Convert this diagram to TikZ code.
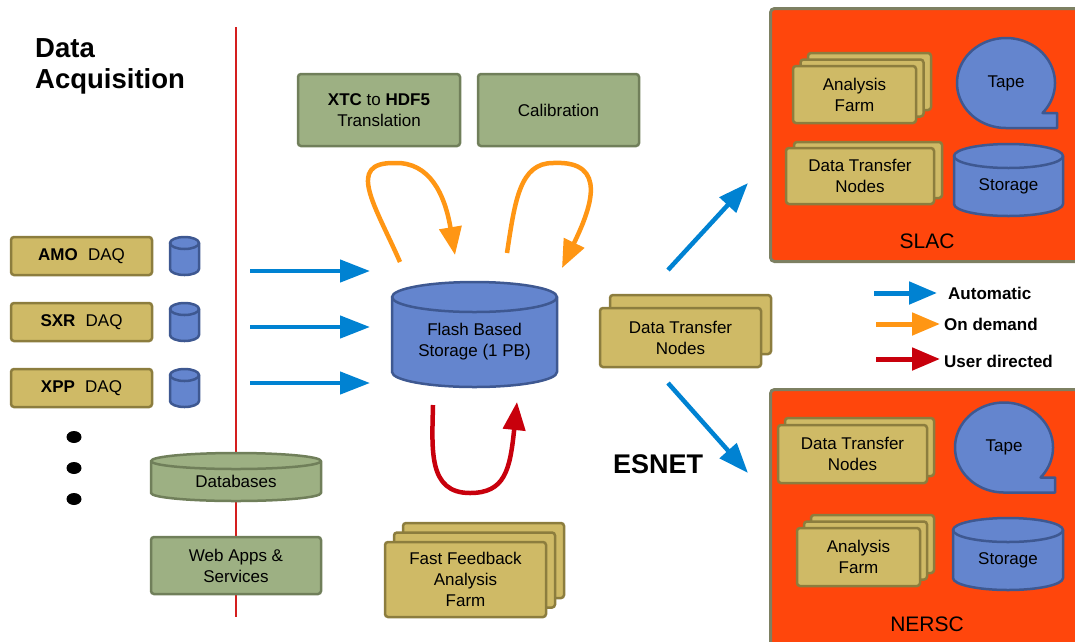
\documentclass[tikz,border=0pt]{standalone}
\usepackage{fontspec}
\setmainfont{Liberation Sans}
\usetikzlibrary{arrows.meta}
\definecolor{tanF}{RGB}{207,186,102}
\definecolor{tanD}{RGB}{140,125,62}
\definecolor{grnF}{RGB}{157,176,131}
\definecolor{grnD}{RGB}{112,127,90}
\definecolor{cylF}{RGB}{100,133,206}
\definecolor{cylD}{RGB}{62,88,145}
\definecolor{arrB}{RGB}{0,130,210}
\definecolor{arrO}{RGB}{255,150,20}
\definecolor{arrR}{RGB}{200,0,12}
\definecolor{siteF}{RGB}{255,70,12}
\definecolor{siteD}{RGB}{125,128,98}
\definecolor{lineR}{RGB}{212,30,30}

\newcommand\mycyl[9]{%
 \pgfmathsetmacro\cxx{(#2+#3)/2}%
 \pgfmathsetmacro\rxx{(#3-#2)/2}%
 \pgfmathsetmacro\kx{0.5523*\rxx}%
 \pgfmathsetmacro\ky{0.5523*#6}%
 \pgfmathsetmacro\ya{#4+#6}%
 \pgfmathsetmacro\yb{#5-#6}%
 \pgfmathsetmacro\ye{#4+2*#6}%
 \pgfmathsetmacro\yt{(#4+#5)/2+#6/2}%
 \filldraw[fill=#7,draw=#8,line width=2.5pt,line join=round]
   (#2,\ya) -- (#2,\yb) .. controls (#2,\yb+\ky) and (\cxx-\kx,#5) .. (\cxx,#5)
   .. controls (\cxx+\kx,#5) and (#3,\yb+\ky) .. (#3,\yb) -- (#3,\ya)
   .. controls (#3,\ya-\ky) and (\cxx+\kx,#4) .. (\cxx,#4)
   .. controls (\cxx-\kx,#4) and (#2,\ya-\ky) .. (#2,\ya) -- cycle;
 \draw[draw=#8,line width=2.5pt] (#2,\ya) .. controls (#2,\ya+\ky) and (\cxx-\kx,\ye) .. (\cxx,\ye)
   .. controls (\cxx+\kx,\ye) and (#3,\ya+\ky) .. (#3,\ya);
 \node[lbl] (#1) at (\cxx,\yt) {#9};
}
\newcommand\stk[9]{%
 \foreach \k in {#6,...,1}{\draw[tanshape] ({#2-#4/2+\k*#7},{#3-#5/2-\k*#8}) rectangle ++(#4,#5);}
 \node[tanbox,minimum width=#4pt,minimum height=#5pt] (#1) at (#2,#3) {#9};
}
\newcommand\tapeshape[4]{%
 \pgfmathsetmacro\tth{asin(30/45)}%
 \filldraw[fill=cylF,draw=cylD,line width=2.5pt,line join=round]
   (#2,#3+45) -- (#4,#3+45) -- (#4,#3+30) -- plot[domain=\tth:-270,samples=120] ({#2+49*cos(\x)},{#3+45*sin(\x)}) -- cycle;
 \node[lbl] (#1) at (#2,#3) {Tape};
}

\begin{document}
\begin{tikzpicture}[x=1pt,y=-1pt,
  lbl/.style={font=\fontsize{17}{21}\selectfont, align=center, inner sep=0pt},
  tanshape/.style={draw=tanD, fill=tanF, line width=2.5pt, rounded corners=3pt},
  tanbox/.style={tanshape, lbl},
  grnbox/.style={draw=grnD, fill=grnF, line width=2.5pt, rounded corners=3pt, lbl},
  sitebox/.style={draw=siteD, fill=siteF, line width=3pt, rounded corners=4pt, inner sep=0pt},
  autoarr/.style={draw=arrB, line width=4.5pt, -{Triangle[length=30pt,width=22pt]}},
  demarr/.style={draw=arrO, line width=4.5pt, -{Triangle[length=28pt,width=22pt]}},
  userarr/.style={draw=arrR, line width=4.5pt, -{Triangle[length=28pt,width=22pt]}},
  legtxt/.style={font=\bfseries\fontsize{17}{20}\selectfont, anchor=west, inner sep=0pt},
  ]
\useasboundingbox (0,0) rectangle (1075,641);

% title
\node[font=\bfseries\fontsize{27.5}{31}\selectfont, anchor=base west, inner sep=0pt] (t1) at (35,57) {Data};
\node[font=\bfseries\fontsize{27.5}{31}\selectfont, anchor=base west, inner sep=0pt] (t2) at (35,88) {Acquisition};

% red separator
\draw[draw=lineR, line width=1.8pt] (236,27) -- (236,617);

% DAQ boxes
\node[tanbox, minimum width=141pt, minimum height=38pt] (amo) at (81.5,256) {\textbf{AMO}\hspace{0.6em}DAQ};
\node[tanbox, minimum width=141pt, minimum height=38pt] (sxr) at (81.5,322) {\textbf{SXR}\hspace{0.6em}DAQ};
\node[tanbox, minimum width=141pt, minimum height=38pt] (xpp) at (81.5,388) {\textbf{XPP}\hspace{0.6em}DAQ};
\mycyl{camo}{170}{199}{237}{275}{6}{cylF}{cylD}{}
\mycyl{csxr}{170}{199}{303}{341}{6}{cylF}{cylD}{}
\mycyl{cxpp}{170}{199}{369}{407}{6}{cylF}{cylD}{}

% dots
\fill (74,437) ellipse [x radius=7.5pt, y radius=6pt];
\fill (74,468) ellipse [x radius=7.5pt, y radius=6pt];
\fill (74,499) ellipse [x radius=7.5pt, y radius=6pt];

% databases and web apps
\mycyl{db}{151}{321}{453}{501}{8}{grnF}{grnD}{Databases}
\node[grnbox, minimum width=170pt, minimum height=57pt] (web) at (236,565.5) {Web Apps \&\\Services};

% top processing boxes
\node[grnbox, minimum width=162pt, minimum height=72pt] (xtc) at (379,110) {\textbf{XTC} to \textbf{HDF5}\\Translation};
\node[grnbox, minimum width=161pt, minimum height=72pt] (cal) at (558.5,110) {Calibration};

% flash storage
\mycyl{flash}{392}{557}{282}{387}{15}{cylF}{cylD}{Flash Based\\Storage (1 PB)}

% fast feedback
\stk{ffb}{465.5}{579.5}{161}{75}{2}{9}{9.5}{Fast Feedback\\Analysis\\Farm}

% middle DTN
\stk{dtn}{680.5}{337.5}{161}{59}{1}{10}{13}{Data Transfer\\Nodes}

% ESNET
\node[font=\bfseries\fontsize{27}{31}\selectfont, inner sep=0pt] (esnet) at (658,464) {ESNET};

% SLAC site
\node[sitebox, minimum width=321pt, minimum height=253pt, anchor=north west] (slac) at (769,7) {};
\stk{safarm}{854.5}{94.5}{123}{57}{2}{7.5}{6.5}{Analysis\\Farm}
\stk{sdtn}{860}{176}{148}{56}{1}{8}{6}{Data Transfer\\Nodes}
\tapeshape{stape}{1006}{83}{1057}
\mycyl{sstor}{954}{1063}{144}{216}{12}{cylF}{cylD}{Storage}
\node[font=\fontsize{21}{25}\selectfont, inner sep=0pt] (slaclbl) at (927,241) {SLAC};

% NERSC site
\node[sitebox, minimum width=321pt, minimum height=270pt, anchor=north west] (nersc) at (769,388) {};
\stk{ndtn}{852.5}{454}{149}{58}{1}{7}{7}{Data Transfer\\Nodes}
\tapeshape{ntape}{1004}{447.5}{1055}
\stk{nafarm}{858.5}{557}{123}{58}{2}{7}{6.5}{Analysis\\Farm}
\mycyl{nstor}{953}{1063}{518}{590}{12}{cylF}{cylD}{Storage}
\node[font=\fontsize{21}{25}\selectfont, inner sep=0pt] (nersclbl) at (927,624) {NERSC};

% automatic arrows into flash
\coordinate (a1) at (250,271); \coordinate (a1e) at (370,271);
\coordinate (a2) at (250,327); \coordinate (a2e) at (370,327);
\coordinate (a3) at (250,383); \coordinate (a3e) at (370,383);
\draw[autoarr] (a1) -- (a1e);
\draw[autoarr] (a2) -- (a2e);
\draw[autoarr] (a3) -- (a3e);

% on demand loops
\coordinate (o1s) at (400,262); \coordinate (o1t) at (395,163); \coordinate (o1e) at (455,255);
\draw[demarr] (o1s) .. controls (375,205) and (345,162) .. (o1t) .. controls (430,162) and (445,195) .. (o1e);
\coordinate (o2s) at (507,253); \coordinate (o2t) at (553,163); \coordinate (o2e) at (562,268);
\draw[demarr] (o2s) .. controls (515,200) and (520,163) .. (o2t) .. controls (610,160) and (590,210) .. (o2e);

% user directed loop
\coordinate (r1s) at (433,405); \coordinate (r1b) at (470,493); \coordinate (r1e) at (517,402);
\draw[userarr] (r1s) .. controls (432,450) and (428,493) .. (r1b) .. controls (505,493) and (510,470) .. (r1e);

% to sites
\coordinate (d1s) at (668,270); \coordinate (d1e) at (748,183);
\coordinate (d2s) at (668,383); \coordinate (d2e) at (748,473);
\draw[autoarr] (d1s) -- (d1e);
\draw[autoarr] (d2s) -- (d2e);

% legend
\coordinate (l1s) at (874,293); \coordinate (l1e) at (937,293);
\coordinate (l2s) at (876,324); \coordinate (l2e) at (940,324);
\coordinate (l3s) at (876,359); \coordinate (l3e) at (940,359);
\draw[draw=arrB, line width=5pt, -{Triangle[length=28pt,width=22pt]}] (l1s) -- (l1e);
\draw[draw=arrO, line width=5pt, -{Triangle[length=28pt,width=22pt]}] (l2s) -- (l2e);
\draw[draw=arrR, line width=5pt, -{Triangle[length=28pt,width=22pt]}] (l3s) -- (l3e);
\node[legtxt] (lg1) at (948,293) {Automatic};
\node[legtxt] (lg2) at (944,324) {On demand};
\node[legtxt] (lg3) at (944,361) {User directed};
\end{tikzpicture}
\end{document}
